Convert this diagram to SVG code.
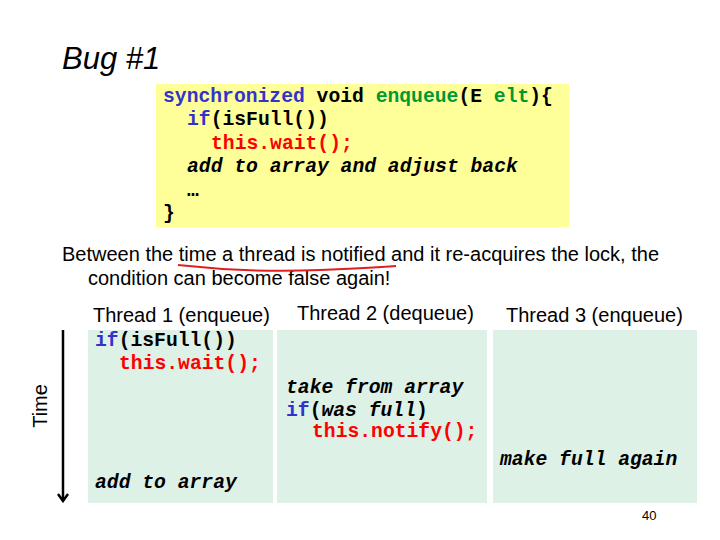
<svg xmlns="http://www.w3.org/2000/svg" width="720" height="540" viewBox="0 0 720 540">
<defs>
<style>
.sans{font-family:"Liberation Sans",Arial,sans-serif;fill:#000}
.code{font-family:"Liberation Mono","Courier New",monospace;font-weight:bold;font-size:19.7px;fill:#000}
.kw{fill:#3333CC}
.gr{fill:#009933}
.rd{fill:#FF0000}
.it{font-style:italic}
.cell{fill:#DDF1E7}
</style>
<marker id="arr" viewBox="0 0 12 12" refX="10" refY="6" markerWidth="12" markerHeight="12" markerUnits="userSpaceOnUse" orient="auto">
<path d="M3,1 L10,6 L3,11" fill="none" stroke="#000" stroke-width="2.5"/>
</marker>
</defs>
<rect width="720" height="540" fill="#fff"/>
<text class="sans" x="62" y="69" font-size="31" font-style="italic">Bug #1</text>
<g id="code">
<rect x="156" y="84" width="413" height="143" fill="#FFFF99"/>
<text class="code" x="163" y="102"><tspan class="kw">synchronized</tspan> void <tspan class="gr">enqueue</tspan>(E <tspan class="gr">elt</tspan>){</text>
<text class="code" x="187" y="125"><tspan class="kw">if</tspan>(isFull())</text>
<text class="code rd" x="211" y="149">this.wait();</text>
<text class="code it" x="187" y="172">add to array and adjust back</text>
<text class="code" x="187" y="196">…</text>
<text class="code" x="163" y="219">}</text>
</g>
<g id="desc">
<text class="sans" x="62" y="261" font-size="20">Between the time a thread is notified and it re-acquires the lock, the</text>
<text class="sans" x="88" y="285" font-size="20">condition can become false again!</text>
<path d="M178,265 Q250,273 320,270 Q370,268 396,266" fill="none" stroke="#E02020" stroke-width="2"/>
</g>
<g id="thread1">
<text class="sans" x="93" y="322" font-size="20">Thread 1 (enqueue)</text>
<rect class="cell" x="88" y="330" width="185" height="173"/>
<text class="code" x="95" y="346"><tspan class="kw">if</tspan>(isFull())</text>
<text class="code rd" x="119" y="369">this.wait();</text>
<text class="code it" x="95" y="488">add to array</text>
</g>
<g id="thread2">
<text class="sans" x="297" y="320" font-size="20">Thread 2 (dequeue)</text>
<rect class="cell" x="277" y="330" width="210" height="173"/>
<text class="code it" x="286" y="393">take from array</text>
<text class="code" x="286" y="416"><tspan class="kw">if</tspan>(<tspan class="it">was full</tspan>)</text>
<text class="code rd" x="312" y="437">this.notify();</text>
</g>
<g id="thread3">
<text class="sans" x="506" y="322" font-size="20">Thread 3 (enqueue)</text>
<rect class="cell" x="493" y="330" width="204" height="173"/>
<text class="code it" x="500" y="465">make full again</text>
</g>
<g id="connectors">
<line x1="63" y1="330" x2="63" y2="501" stroke="#000" stroke-width="2.5" marker-end="url(#arr)"/>
</g>
<text class="sans" font-size="20" transform="translate(47,406) rotate(-90)" text-anchor="middle">Time</text>
<text class="sans" x="642" y="520" font-size="13">40</text>
</svg>
